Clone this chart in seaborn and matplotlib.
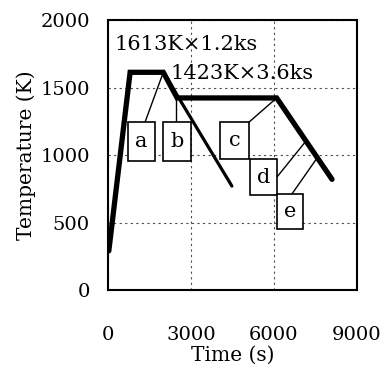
import matplotlib
matplotlib.use("Agg")
import matplotlib.pyplot as plt
import seaborn as sns
import pandas as pd
from matplotlib.patches import Rectangle

# Main heat-treatment path
main_t = [30, 800, 2000, 2500, 6100, 8100]
main_T = [290, 1613, 1613, 1423, 1423, 820]
# Quench path from 1613 K
quench_t = [2000, 4480]
quench_T = [1613, 770]

# Sample boxes: label, t0, t1, T0, T1
box_labels = ["a", "b", "c", "d", "e"]
box_t0 = [720, 1990, 4050, 5130, 6110]
box_t1 = [1700, 3000, 5100, 6110, 7050]
box_T0 = [955, 955, 970, 704, 452]
box_T1 = [1244, 1244, 1244, 970, 711]

# Leader lines: (start t, start T) -> (end t, end T)
lead_t0 = [1340, 2460, 5100, 6110, 6650]
lead_T0 = [1244, 1244, 1244, 837, 711]
lead_t1 = [2000, 2460, 6100, 7160, 7550]
lead_T1 = [1613, 1423, 1423, 1104, 975]

ann_texts = ["1613K\u00d71.2ks", "1423K\u00d73.6ks"]
ann_t = [250, 2250]
ann_T = [1822, 1607]

xticks = [0, 3000, 6000, 9000]
yticks = [0, 500, 1000, 1500, 2000]

sns.set_theme(style="white")
plt.rcParams['font.family'] = ['DejaVu Serif', 'DejaVu Sans']
plt.rcParams['mathtext.fontset'] = 'dejavuserif'

fig = plt.figure(figsize=(3.85, 3.65), dpi=100)
ax = fig.add_axes([0.2805, 0.2055, 0.6465, 0.7395])

df_main = pd.DataFrame({"t": main_t, "T": main_T})
df_q = pd.DataFrame({"t": quench_t, "T": quench_T})
sns.lineplot(data=df_main, x="t", y="T", sort=False, color="black",
             linewidth=3.8, ax=ax, zorder=3, solid_joinstyle="miter")
sns.lineplot(data=df_q, x="t", y="T", sort=False, color="black",
             linewidth=2.3, ax=ax, zorder=3)

for i in range(len(lead_t0)):
    ax.plot([lead_t0[i], lead_t1[i]], [lead_T0[i], lead_T1[i]],
            color="black", linewidth=1.0, zorder=2)

for i, lab in enumerate(box_labels):
    ax.add_patch(Rectangle((box_t0[i], box_T0[i]), box_t1[i] - box_t0[i],
                           box_T1[i] - box_T0[i], facecolor="white",
                           edgecolor="black", linewidth=1.2, zorder=4))
    ax.text((box_t0[i] + box_t1[i]) / 2, (box_T0[i] + box_T1[i]) / 2, lab,
            ha="center", va="center", fontsize=15, zorder=5, color="black")

for txt, tx, ty in zip(ann_texts, ann_t, ann_T):
    ax.text(tx, ty, txt, ha="left", va="center", fontsize=15, color="black",
            zorder=5)

ax.set_xlim(0, 9000)
ax.set_ylim(0, 2000)
ax.set_xticks(xticks)
ax.set_yticks(yticks)
ax.grid(True, color="0.3", linestyle=(0, (2, 3)), linewidth=0.8)
for s in ax.spines.values():
    s.set_color("black")
    s.set_linewidth(1.5)
ax.tick_params(axis="both", direction="in", length=3, width=0.8,
               colors="black", labelsize=14)
ax.tick_params(axis="x", pad=26)
ax.tick_params(axis="y", pad=13)
ax.set_xlabel("Time (s)", fontsize=14.5, color="black", labelpad=1)
ax.set_ylabel("Temperature (K)", fontsize=14.5, color="black", labelpad=3)

fig.savefig("out.png", dpi=100)
